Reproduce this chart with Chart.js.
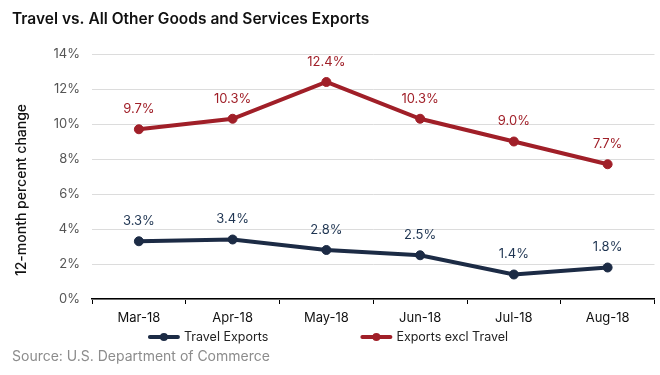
<!DOCTYPE html>
<html>
<head>
<meta charset="utf-8">
<script src="https://cdn.jsdelivr.net/npm/chart.js@4"></script>
<style>
  html, body { margin: 0; padding: 0; background: #fff; }
  #wrap { width: 660px; height: 375px; position: relative; }
</style>
</head>
<body>
<div id="wrap"><canvas id="chart"></canvas></div>
<script>
// chart data
const months = ['Mar-18', 'Apr-18', 'May-18', 'Jun-18', 'Jul-18', 'Aug-18'];
const travelExports = [3.3, 3.4, 2.8, 2.5, 1.4, 1.8];
const exportsExclTravel = [9.7, 10.3, 12.4, 10.3, 9.0, 7.7];
const yTicks = [0, 2, 4, 6, 8, 10, 12, 14];

const chartTitle = 'Travel vs. All Other Goods and Services Exports';
const yTitle = '12-month percent change';
const sourceText = 'Source: U.S. Department of Commerce';

const FONT = 'Inter';
const NAVY = '#1c2b45';
const RED = '#a01f28';

// value labels above each point
const pointLabels = {
    id: 'pointLabels',
    afterDatasetsDraw(chart) {
        const ctx = chart.ctx;
        ctx.save();
        ctx.font = '13px ' + FONT;
        ctx.textAlign = 'center';
        ctx.textBaseline = 'middle';
        chart.data.datasets.forEach((ds, i) => {
            ctx.fillStyle = ds.labelColor;
            chart.getDatasetMeta(i).data.forEach((pt, j) => {
                ctx.fillText(ds.data[j].toFixed(1) + '%', pt.x, pt.y - 20);
            });
        });
        ctx.restore();
    }
};

// title, axis title, legend and source line
const extras = {
    id: 'extras',
    afterDraw(chart) {
        const ctx = chart.ctx;
        ctx.save();
        ctx.textBaseline = 'middle';

        ctx.fillStyle = '#111';
        ctx.font = '600 15.5px ' + FONT;
        ctx.textAlign = 'left';
        ctx.fillText(chartTitle, 12, 19);

        ctx.save();
        ctx.translate(22, 190);
        ctx.rotate(-Math.PI / 2);
        ctx.textAlign = 'center';
        ctx.font = '500 14px ' + FONT;
        ctx.fillText(yTitle, 0, 0);
        ctx.restore();

        // legend
        ctx.font = '12.5px ' + FONT;
        const sym = 32, gapText = 4, gapItem = 92;
        const items = chart.data.datasets.map(ds => ({
            text: ds.label, color: ds.borderColor,
            w: sym + gapText + ctx.measureText(ds.label).width
        }));
        const total = items.reduce((s, it) => s + it.w, 0) + gapItem * (items.length - 1);
        let x = 328 - total / 2;
        const y = 337;
        items.forEach(it => {
            ctx.strokeStyle = it.color;
            ctx.lineWidth = 4;
            ctx.lineCap = 'round';
            ctx.beginPath();
            ctx.moveTo(x + 2, y);
            ctx.lineTo(x + sym - 2, y);
            ctx.stroke();
            ctx.fillStyle = it.color;
            ctx.beginPath();
            ctx.arc(x + sym / 2, y, 4, 0, Math.PI * 2);
            ctx.fill();
            ctx.fillStyle = '#222';
            ctx.textAlign = 'left';
            ctx.fillText(it.text, x + sym + gapText, y);
            x += it.w + gapItem;
        });

        ctx.fillStyle = '#8c8c8c';
        ctx.font = '14px ' + FONT;
        ctx.fillText(sourceText, 12, 357);
        ctx.restore();
    }
};

new Chart(document.getElementById('chart'), {
    type: 'line',
    data: {
        labels: months,
        datasets: [{
            label: 'Travel Exports',
            data: travelExports,
            borderColor: NAVY,
            backgroundColor: NAVY,
            labelColor: '#1f3552',
            borderWidth: 4,
            pointRadius: 4.5,
            pointBorderWidth: 1,
            pointHoverRadius: 4.5,
            tension: 0
        }, {
            label: 'Exports excl Travel',
            data: exportsExclTravel,
            borderColor: RED,
            backgroundColor: RED,
            labelColor: RED,
            borderWidth: 4,
            pointRadius: 4.5,
            pointBorderWidth: 1,
            pointHoverRadius: 4.5,
            tension: 0
        }]
    },
    options: {
        responsive: true,
        maintainAspectRatio: false,
        animation: false,
        layout: { padding: { top: 54, right: 5, bottom: 46, left: 0 } },
        plugins: {
            legend: { display: false },
            tooltip: { enabled: false }
        },
        scales: {
            x: {
                offset: true,
                grid: { drawOnChartArea: false, drawTicks: true, tickLength: 5, color: '#000', offset: true },
                border: { color: '#000', width: 1.5 },
                ticks: { color: '#111', font: { family: FONT, size: 13 }, padding: 6, maxRotation: 0 },
                afterFit: s => { s.height = 30; }
            },
            y: {
                min: 0,
                max: 14,
                grid: { color: '#dcdcdc', drawTicks: false },
                border: { display: false },
                ticks: {
                    stepSize: 1,
                    color: '#555',
                    padding: 12,
                    font: { family: FONT, size: 13 },
                    callback: v => yTicks.includes(v) ? v + '%' : ''
                },
                afterFit: s => { s.width = 92; }
            }
        }
    },
    plugins: [pointLabels, extras]
});
</script>
</body>
</html>
